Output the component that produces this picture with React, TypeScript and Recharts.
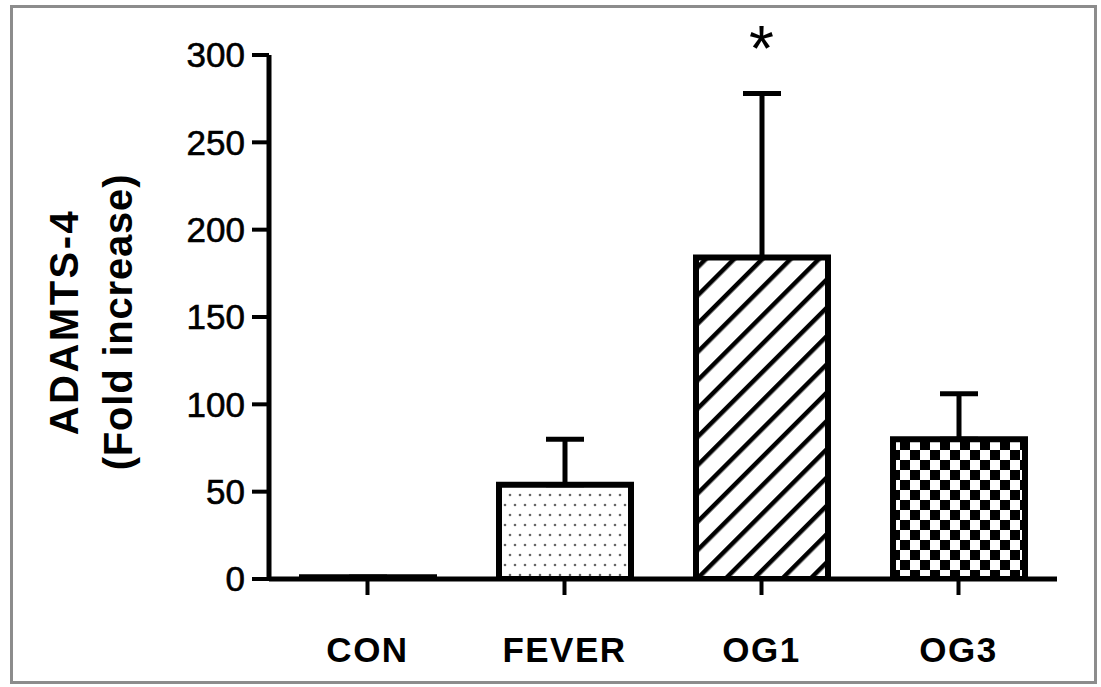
import { BarChart, Bar, XAxis, YAxis, Cell, ErrorBar, ReferenceDot } from 'recharts';

// values
const categories = ["CON", "FEVER", "OG1", "OG3"];
const means = [1, 54, 184, 80];
const sems = [0, 26, 94, 26];
const significance = ["", "", "*", ""];
const yTicks = [0, 50, 100, 150, 200, 250, 300];

const FILLS = ["#ffffff", "url(#dots)", "url(#hatch)", "url(#checker)"];
const FONT = "'Liberation Sans', Arial, Helvetica, sans-serif";

const data = categories.map((name, i) => ({
    name,
    mean: means[i],
    err: [0, sems[i]],
    sig: significance[i]
}));

const XTick = (props: any) => {
    const { x, y, payload } = props;
    return (
        <text x={x} y={y} dy="0.71em" textAnchor="middle" fill="#000"
            fontFamily={FONT} fontSize={35} fontWeight="bold" letterSpacing={1.5}>
            {payload.value}
        </text>
    );
};

const YTick = (props: any) => {
    const { x, y, payload } = props;
    return (
        <text x={x} y={y} dy="0.355em" textAnchor="end" fill="#000"
            fontFamily={FONT} fontSize={35} stroke="#000" strokeWidth={0.6}>
            {payload.value}
        </text>
    );
};

const YTitle = () => {
    const cy = 322;
    return (
        <g fontFamily={FONT} fontWeight="bold" fill="#000">
            <text x={78} y={cy} textAnchor="middle" fontSize={40} letterSpacing={2.5}
                transform={`rotate(-90, 78, ${cy})`}>ADAMTS-4</text>
            <text x={132} y={cy} textAnchor="middle" fontSize={40} letterSpacing={0.8}
                transform={`rotate(-90, 132, ${cy})`}>(Fold increase)</text>
        </g>
    );
};

const Star = (props: any) => {
    const { viewBox } = props;
    const cx = viewBox.x + viewBox.width / 2;
    const cy = viewBox.y + viewBox.height / 2;
    return (
        <text x={cx} y={cy - 22} textAnchor="middle" fontFamily={FONT} fontSize={64} fill="#000">
            *
        </text>
    );
};

export default function App() {
    return (
        <div style={{ position: "absolute", left: 0, top: 0, width: 1101, height: 687, background: "#fff" }}>
            <div style={{
                position: "absolute", left: 10, top: 5, width: 1087, height: 679,
                boxSizing: "border-box", border: "3px solid #8c8c8c"
            }} />
            <BarChart width={1101} height={687} data={data}
                margin={{ top: 55, right: 44, bottom: 0, left: 0 }}
                style={{ position: "absolute", left: 0, top: 0 }}>
                <defs>
                    <pattern id="dots" patternUnits="userSpaceOnUse" width={10} height={20}>
                        <rect width={10} height={20} fill="#fff" />
                        <circle cx={5} cy={5} r={1.3} fill="#666" />
                        <circle cx={0} cy={15} r={1.3} fill="#666" />
                        <circle cx={10} cy={15} r={1.3} fill="#666" />
                    </pattern>
                    <pattern id="hatch" patternUnits="userSpaceOnUse" width={20} height={20}
                        patternTransform="rotate(45)">
                        <rect width={20} height={20} fill="#fff" />
                        <rect x={0} y={0} width={4.5} height={20} fill="#000" />
                    </pattern>
                    <pattern id="checker" patternUnits="userSpaceOnUse" width={20} height={20}>
                        <rect width={20} height={20} fill="#fff" />
                        <rect x={0} y={0} width={10} height={10} fill="#000" />
                        <rect x={10} y={10} width={10} height={10} fill="#000" />
                    </pattern>
                </defs>
                <XAxis dataKey="name" height={108} tickSize={16} tickMargin={42}
                    axisLine={{ stroke: "#000", strokeWidth: 5 }}
                    tickLine={{ stroke: "#000", strokeWidth: 4 }}
                    tick={<XTick />} interval={0} />
                <YAxis width={269} domain={[0, 300]} ticks={yTicks} tickSize={17} tickMargin={7}
                    axisLine={{ stroke: "#000", strokeWidth: 5 }}
                    tickLine={{ stroke: "#000", strokeWidth: 4 }}
                    tick={<YTick />} label={<YTitle />} allowDataOverflow />
                <Bar dataKey="mean" barSize={132} stroke="#000" strokeWidth={6} isAnimationActive={false}>
                    {data.map((entry, i) => (
                        <Cell key={`cell-${i}`} fill={FILLS[i]} stroke="#000" strokeWidth={6} />
                    ))}
                    <ErrorBar dataKey="err" direction="y" width={19} stroke="#000" strokeWidth={5}
                        isAnimationActive={false} />
                </Bar>
                {data.filter(d => d.sig).map(d => (
                    <ReferenceDot key={d.name} x={d.name} y={d.mean + d.err[1]} r={1}
                        fill="none" stroke="none" ifOverflow="visible" label={<Star />} />
                ))}
            </BarChart>
        </div>
    );
}
